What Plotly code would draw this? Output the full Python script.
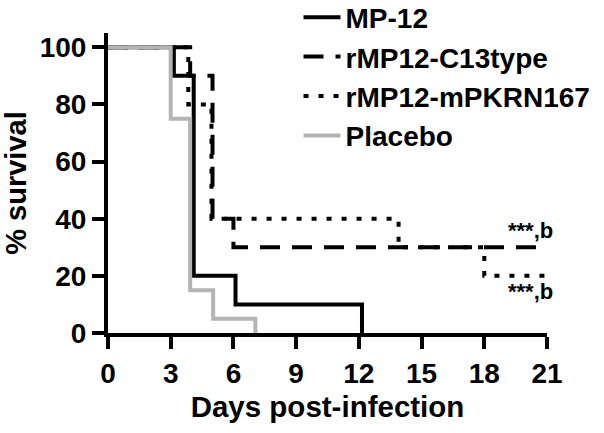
import plotly.graph_objects as go

# Kaplan-Meier step data (day of event, % survival after event)
mp12_days = [0, 3.15, 4.1, 6.1, 12.15]
mp12_surv = [100, 90, 20, 10, 0]

c13_days = [0, 3.93, 5.0, 6.0, 21]
c13_surv = [100, 90, 40, 30, 30]

pkr_days = [0, 3.84, 4.95, 13.9, 18.0, 21]
pkr_surv = [100, 80, 40, 30, 20, 20]

plac_days = [0, 3.0, 3.93, 5.03, 7.05]
plac_surv = [100, 75, 15, 5, 0]

x_ticks = [0, 3, 6, 9, 12, 15, 18, 21]
y_ticks = [0, 20, 40, 60, 80, 100]

annot_text = ["***,b", "***,b"]
annot_y = [36, 14.5]

FONT = "Liberation Sans, Arial, sans-serif"
GREY = "#b4b4b4"

fig = go.Figure()
fig.add_trace(go.Scatter(x=mp12_days, y=mp12_surv, mode="lines", line_shape="hv",
                         name="MP-12", line=dict(color="black", width=4)))
fig.add_trace(go.Scatter(x=c13_days, y=c13_surv, mode="lines", line_shape="hv",
                         name="rMP12-C13type", line=dict(color="black", width=4, dash="20px,12px")))
fig.add_trace(go.Scatter(x=pkr_days, y=pkr_surv, mode="lines", line_shape="hv",
                         name="rMP12-mPKRN167", line=dict(color="black", width=4, dash="5px,10px")))
fig.add_trace(go.Scatter(x=plac_days, y=plac_surv, mode="lines", line_shape="hv",
                         name="Placebo", line=dict(color=GREY, width=4)))

for t, yv in zip(annot_text, annot_y):
    fig.add_annotation(x=21, y=yv, text=t, showarrow=False, xanchor="right", xshift=8,
                       font=dict(family=FONT, size=22, color="black"))

fig.update_layout(
    width=604, height=433,
    margin=dict(l=108, r=57, t=33, b=100, autoexpand=False),
    paper_bgcolor="white", plot_bgcolor="white",
    font=dict(family=FONT, size=28, color="black", weight="bold"),
    showlegend=True,
    legend=dict(x=0.434, y=1.135, xanchor="left", yanchor="top",
                font=dict(family=FONT, size=28, color="black", weight="bold"),
                bgcolor="rgba(0,0,0,0)", itemwidth=37, tracegroupgap=0),
    xaxis=dict(range=[0, 21], tickvals=x_ticks, showgrid=False, zeroline=False,
               automargin=False,
               showline=True, linecolor="black", linewidth=4,
               ticks="outside", ticklen=12, tickwidth=4, tickcolor="black",
               tickfont=dict(family=FONT, size=28, color="black", weight="bold"),
               title=dict(text="Days post-infection", standoff=10,
                          font=dict(family=FONT, size=29.5, color="black", weight="bold"))),
    yaxis=dict(range=[0, 105], tickvals=y_ticks, showgrid=False, zeroline=False,
               automargin=False,
               showline=True, linecolor="black", linewidth=4,
               ticks="outside", ticklen=12, tickwidth=4, tickcolor="black",
               tickfont=dict(family=FONT, size=28, color="black", weight="bold"),
               title=dict(text="% survival", standoff=10,
                          font=dict(family=FONT, size=29, color="black", weight="bold"))),
)

# remove the browser's default 8px body margin so the figure fills the window
fig.write_html("out.html", config={"displayModeBar": False},
               post_script="document.body.style.margin='0';document.body.style.overflow='hidden';")
